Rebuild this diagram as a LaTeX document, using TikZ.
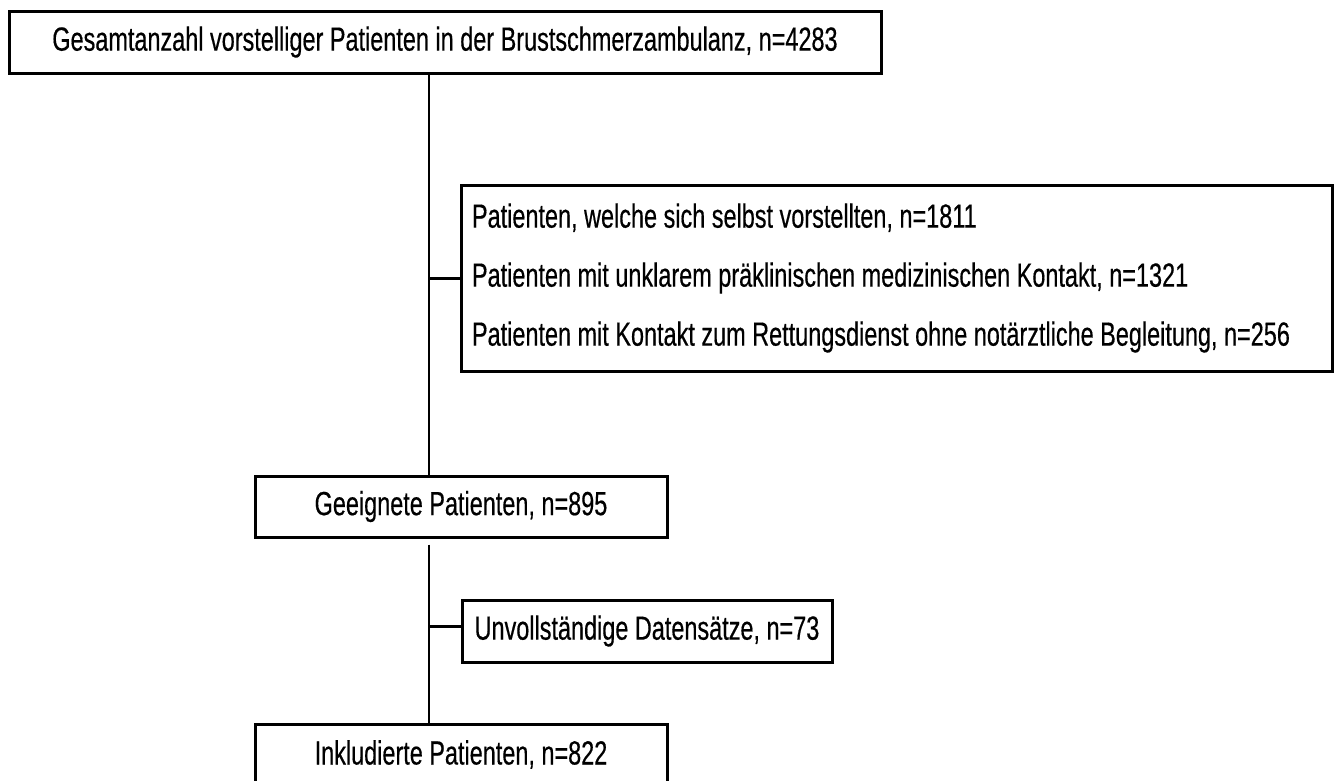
\documentclass[tikz,border=0pt]{standalone}
\usepackage{fontspec}
\setmainfont{Liberation Sans}[FakeStretch=0.70,FakeBold=0.4]
\begin{document}
\begin{tikzpicture}[x=1pt,y=1pt,
  box/.style={draw=black, line width=3pt, fill=white, rectangle, inner sep=0pt,
    font=\fontsize{33.5}{59}\selectfont},
  spineline/.style={draw=black, line width=2pt},
  stubline/.style={draw=black, line width=3pt}]
\useasboundingbox (0,0) rectangle (1337,-780);
\fill[white] (0,0) rectangle (1337,-780);
\coordinate (spine) at (428.5,0);
\node[box, minimum width=872, minimum height=62] (top) at (445,-42)
  {Gesamtanzahl vorstelliger Patienten in der Brustschmerzambulanz, n=4283};
\node[box, minimum height=186, text width=849, inner xsep=11pt, align=flush left] (ex1) at (896.5,-278)
  {Patienten, welche sich selbst vorstellten, n=1811\\
   Patienten mit unklarem präklinischen medizinischen Kontakt, n=1321\\
   Patienten mit Kontakt zum Rettungsdienst ohne notärztliche Begleitung, n=256};
\node[box, minimum width=412, minimum height=61] (mid) at (461,-506.5)
  {Geeignete Patienten, n=895};
\node[box, minimum width=370, minimum height=62] (ex2) at (647,-631)
  {Unvollständige Datensätze, n=73};
\node[box, minimum width=412, minimum height=61] (inc) at (461,-754.5)
  {Inkludierte Patienten, n=822};
\draw[spineline] (top.south -| spine) -- (mid.north -| spine);
\draw[spineline] ([yshift=-6pt]mid.south -| spine) -- ([yshift=-2pt]inc.north -| spine);
\draw[stubline] (ex1.west -| spine) -- (ex1.west);
\draw[stubline] ([yshift=5pt]ex2.west -| spine) -- ([yshift=5pt]ex2.west);
\end{tikzpicture}
\end{document}
